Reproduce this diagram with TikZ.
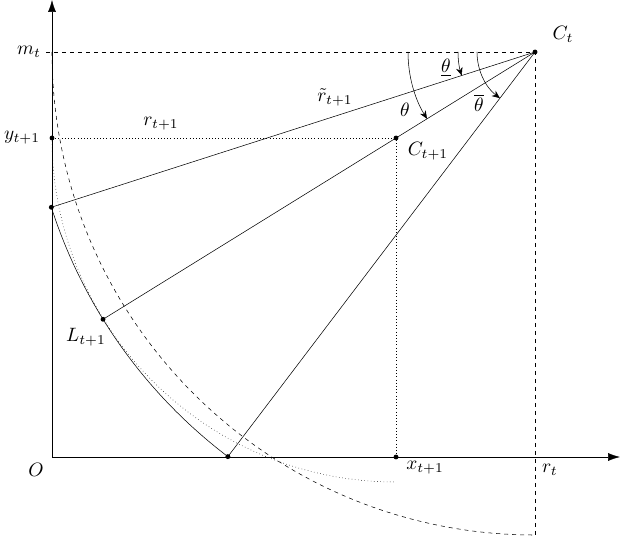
\documentclass[tikz,border=0pt]{standalone}
\usetikzlibrary{calc,arrows.meta}
\begin{document}
\begin{tikzpicture}[x=0.75pt,y=0.75pt,
  dot/.style={circle,fill,inner sep=1.3pt},
  lbl/.style={inner sep=1pt,scale=1.45},
  ang/.style={-{Stealth[length=6pt,width=5pt]}},
  axis/.style={-{Latex[length=9pt,width=6pt]}}]
\useasboundingbox (0,0) rectangle (620,538);
\coordinate (O) at (52,81);
\coordinate (Ct) at (535,486);
\coordinate (C1) at (396,400);
\coordinate (Y1) at (52,400);
\coordinate (Mt) at (52,486);
\coordinate (X1) at (396,81);
\coordinate (Rt) at (535,81);
\coordinate (Xe) at (620,81);
\coordinate (Ye) at (52,538);
\coordinate (Rb) at (535,3);
\coordinate (A) at ($(Ct)+(197.8:508)$);
\coordinate (L) at ($(Ct)+(211.75:508)$);
\coordinate (B) at ($(Ct)+(232.8:508)$);
% axes
\draw[axis] (O) -- (Xe);
\draw[axis] (O) -- (Ye);
% dashed
\draw[dashed] (46,486) -- (Ct) -- (Rb);
\draw[dashed] (Mt) arc[start angle=180,end angle=270,radius=362.25pt];
% dotted
\draw[dotted] (Y1) -- (C1) -- (X1);
\draw[dotted] (Y1) arc[start angle=180,end angle=270,radius=258pt];
% solid arc and rays
\draw (A) arc[start angle=197.8,end angle=232.8,radius=381pt];
\draw (Ct) -- (A);
\draw (Ct) -- (L);
\draw (Ct) -- (B);
% angle arcs
\draw[ang] ($(Ct)+(-77,0)$) arc[start angle=180,end angle=197.8,radius=57.75pt];
\draw[ang] ($(Ct)+(-127,0)$) arc[start angle=180,end angle=211.75,radius=95.25pt];
\draw[ang] ($(Ct)+(-58,0)$) arc[start angle=180,end angle=232.8,radius=43.5pt];
% dots
\foreach \p in {Y1,A,L,B,C1,Ct,X1} \node[dot] at (\p) {};
% labels
\node[lbl] (lmt) at (29,486) {$m_t$};
\node[lbl] (ly) at (22,400) {$y_{t+1}$};
\node[lbl] (lr) at (161,414) {$r_{t+1}$};
\node[lbl] (lrt) at (335,441) {$\tilde r_{t+1}$};
\node[lbl] (lct) at (563,504) {$C_t$};
\node[lbl] (lc1) at (428,387) {$C_{t+1}$};
\node[lbl] (lL) at (86,201) {$L_{t+1}$};
\node[lbl] (lO) at (36,68) {$O$};
\node[lbl] (lx) at (425,70) {$x_{t+1}$};
\node[lbl] (lrt2) at (550,68) {$r_t$};
\node[lbl] (th1) at (446,470) {$\underline{\theta}$};
\node[lbl] (th2) at (405,428) {$\theta$};
\node[lbl] (th3) at (479,435) {$\overline{\theta}$};
\end{tikzpicture}
\end{document}
